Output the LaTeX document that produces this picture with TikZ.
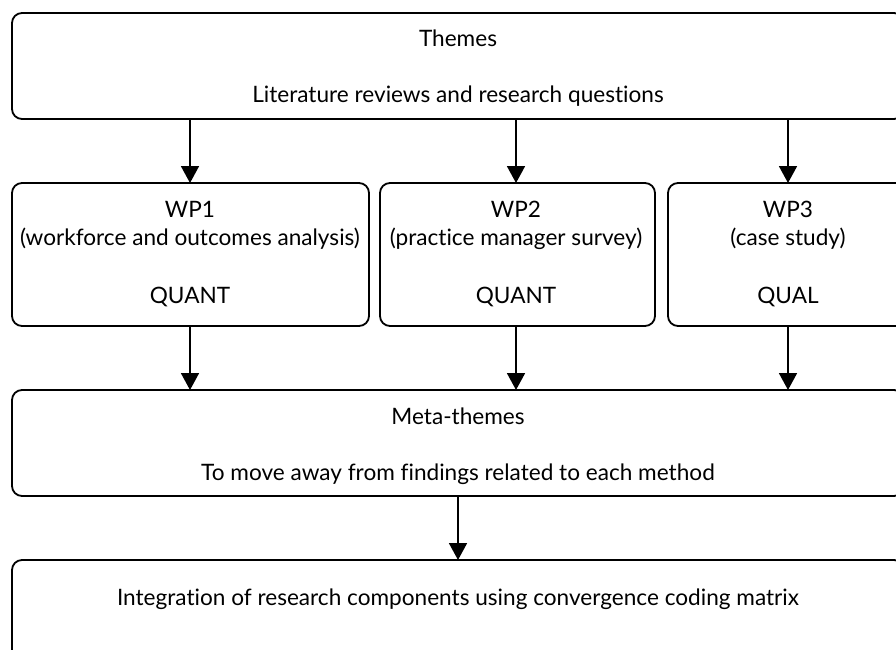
\documentclass[tikz,border=0pt]{standalone}
\usepackage{fontspec}
\setmainfont{Lato}[Ligatures=NoCommon]
\usetikzlibrary{arrows.meta}
\begin{document}
\begin{tikzpicture}[x=1pt,y=-1pt,
  box/.style={draw=black,line width=1.8pt,rounded corners=10pt,fill=none},
  lbl/.style={font=\fontsize{22.6}{28}\selectfont,inner sep=0pt,anchor=base},
  arr/.style={line width=1.8pt,-{Triangle[width=18pt,length=17pt]}}]
\useasboundingbox (0,0) rectangle (896,649);
\clip (0,0) rectangle (896,649);
% boxes
\draw[box] (12,13) rectangle (904,119);
\draw[box] (12,183) rectangle (369,326);
\draw[box] (380,183) rectangle (655,326);
\draw[box] (668,183) rectangle (908,326);
\draw[box] (12,390) rectangle (904,496);
\draw[box] (12,560) rectangle (904,680);
% anchor coordinates
\coordinate (t1) at (190,119); \coordinate (w1t) at (190,183);
\coordinate (t2) at (516,119); \coordinate (w2t) at (516,183);
\coordinate (t3) at (788,119); \coordinate (w3t) at (788,183);
\coordinate (w1b) at (190,326); \coordinate (m1) at (190,390);
\coordinate (w2b) at (516,326); \coordinate (m2) at (516,390);
\coordinate (w3b) at (788,326); \coordinate (m3) at (788,390);
\coordinate (mb) at (458,496); \coordinate (it) at (458,560);
% texts
\node[lbl] (themes) at (458,46) {Themes};
\node[lbl] (lit) at (458,102) {Literature reviews and research questions};
\node[lbl] (wp1) at (190,217) {WP1};
\node[lbl] (wp1d) at (190,245) {(workforce and outcomes analysis)};
\node[lbl] (q1) at (190,303) {QUANT};
\node[lbl] (wp2) at (516,217) {WP2};
\node[lbl] (wp2d) at (516,245) {(practice manager survey)};
\node[lbl] (q2) at (516,303) {QUANT};
\node[lbl] (wp3) at (788,217) {WP3};
\node[lbl] (wp3d) at (788,245) {(case study)};
\node[lbl] (q3) at (788,303) {QUAL};
\node[lbl] (meta) at (458,424) {Meta-themes};
\node[lbl] (move) at (458,480) {To move away from findings related to each method};
\node[lbl] (integ) at (458,605) {Integration of research components using convergence coding matrix};
% arrows
\draw[arr] (t1) -- (w1t);
\draw[arr] (t2) -- (w2t);
\draw[arr] (t3) -- (w3t);
\draw[arr] (w1b) -- (m1);
\draw[arr] (w2b) -- (m2);
\draw[arr] (w3b) -- (m3);
\draw[arr] (mb) -- (it);
\end{tikzpicture}
\end{document}
